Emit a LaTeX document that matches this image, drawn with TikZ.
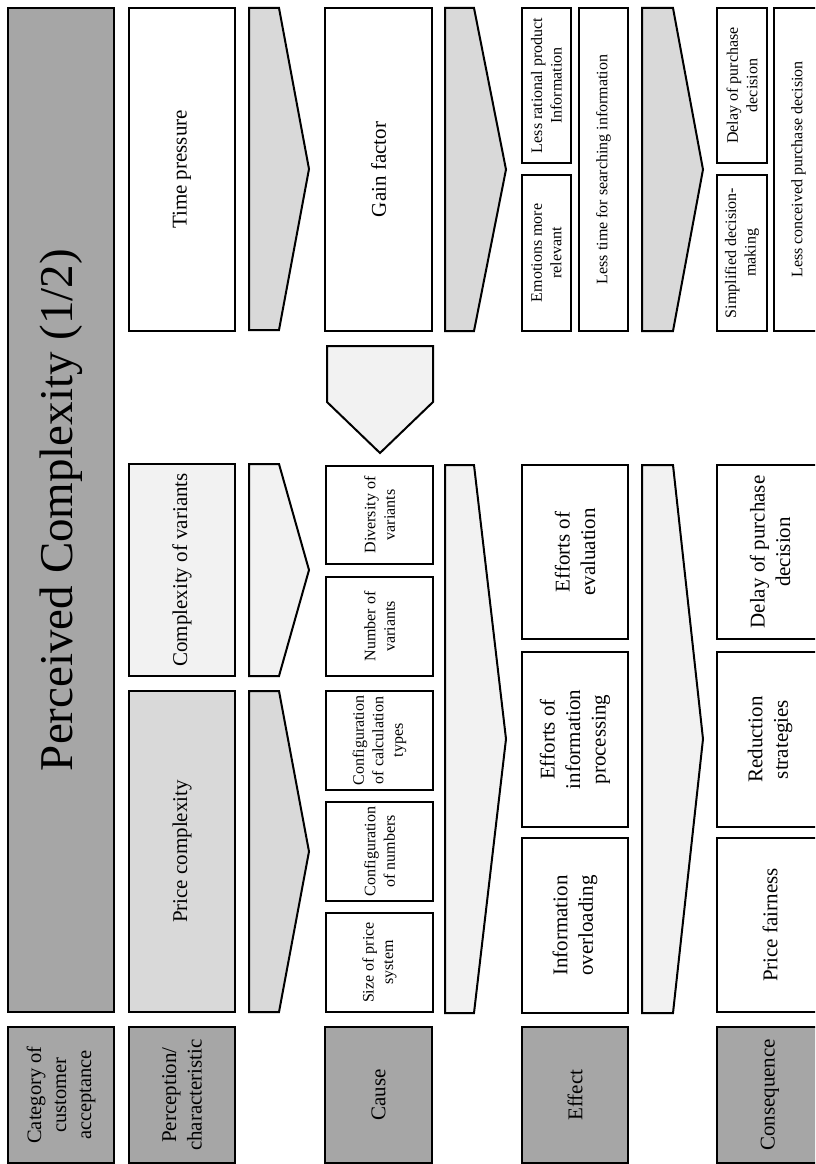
\documentclass[tikz,border=0pt]{standalone}
\usepackage{fontspec}
\setmainfont{Liberation Serif}
\definecolor{darkg}{HTML}{A6A6A6}
\definecolor{midg}{HTML}{D9D9D9}
\definecolor{lightg}{HTML}{F2F2F2}
\tikzset{
  box/.style={draw=black, line width=2pt, rotate=90, align=center, inner sep=0pt},
  bigtxt/.style={font=\fontsize{21}{25.5}\selectfont},
  smalltxt/.style={font=\fontsize{16}{19.5}\selectfont},
  flow/.style={draw=black, line width=2pt, line join=miter},
}
% \rbox{name}{x1}{y1}{x2}{y2}{options}{text}: box given by its corners, text reading upwards
\newcommand{\rbox}[7]{%
  \pgfmathsetmacro{\rbcx}{(#2+#4)/2}%
  \pgfmathsetmacro{\rbcy}{(#3+#5)/2}%
  \pgfmathsetmacro{\rbw}{#4-#2}%
  \pgfmathsetmacro{\rbh}{#5-#3}%
  \node[box, #6, minimum width=\rbh pt, minimum height=\rbw pt] (#1) at (\rbcx,\rbcy) {#7};}
% \chev{x1}{xflat}{xtip}{y1}{y2}{fill}: flow chevron pointing to the right
\newcommand{\chev}[6]{%
  \pgfmathsetmacro{\chm}{(#4+#5)/2}%
  \draw[flow, fill=#6] (#1,#4) -- (#2,#4) -- (#3,\chm) -- (#2,#5) -- (#1,#5) -- cycle;}
\begin{document}
\begin{tikzpicture}[x=1pt, y=-1pt]
\clip (0,0) rectangle (815,1164);
\fill[white] (0,0) rectangle (815,1164);

% column 1: title and header
\rbox{title}{8}{8}{114}{1012}{fill=darkg, font=\fontsize{47}{56}\selectfont}{Perceived Complexity (1/2)}
\rbox{cat}{8}{1027}{114}{1163}{fill=darkg, font=\fontsize{20.5}{25}\selectfont}{Category of\\customer\\acceptance}

% column 2: perception / characteristic
\rbox{time}{129}{8}{235}{331}{fill=white, bigtxt}{Time pressure}
\rbox{varc}{129}{464}{235}{676}{fill=lightg, bigtxt}{Complexity of variants}
\rbox{pricec}{129}{691}{235}{1012}{fill=midg, bigtxt}{Price complexity}
\rbox{perc}{129}{1027}{235}{1163}{fill=darkg, bigtxt}{Perception/\\characteristic}

% column 3: flow chevrons
\chev{249}{279}{309}{8}{330}{midg}
\chev{249}{279}{309}{464}{676}{lightg}
\chev{249}{279}{309}{691}{1012}{midg}

% column 4: cause
\rbox{gain}{325}{8}{432}{331}{fill=white, bigtxt}{Gain factor}
\draw[flow, fill=lightg] (327,346) -- (433,346) -- (433,402) -- (380,453) -- (327,402) -- cycle;
\rbox{div}{326}{466}{433}{564}{fill=white, smalltxt}{Diversity of\\variants}
\rbox{num}{326}{577}{433}{676}{fill=white, smalltxt}{Number of\\variants}
\rbox{cct}{326}{691}{433}{790}{fill=white, smalltxt}{Configuration\\of calculation\\types}
\rbox{cnum}{326}{802}{433}{901}{fill=white, smalltxt}{Configuration\\of numbers}
\rbox{size}{326}{913}{433}{1012}{fill=white, smalltxt}{Size of price\\system}
\rbox{cause}{325}{1027}{432}{1163}{fill=darkg, bigtxt}{Cause}

% column 5: flow chevrons
\chev{445}{474}{506}{8}{331}{midg}
\chev{445}{474}{506}{465}{1013}{lightg}

% column 6: effect
\rbox{lrpi}{522}{8}{571}{163}{fill=white, smalltxt}{Less rational product\\Information}
\rbox{emo}{522}{175}{571}{331}{fill=white, smalltxt}{Emotions more\\relevant}
\rbox{ltsi}{579}{8}{628}{331}{fill=white, smalltxt}{Less time for searching information}
\rbox{eeval}{522}{465}{628}{639}{fill=white, bigtxt}{Efforts of\\evaluation}
\rbox{eip}{522}{652}{628}{827}{fill=white, bigtxt}{Efforts of\\information\\processing}
\rbox{iol}{522}{838}{628}{1013}{fill=white, bigtxt}{Information\\overloading}
\rbox{effect}{522}{1027}{628}{1163}{fill=darkg, bigtxt}{Effect}

% column 7: flow chevrons
\chev{642}{673}{703}{8}{331}{midg}
\chev{642}{673}{703}{465}{1013}{lightg}

% column 8: consequence
\rbox{dpda}{717}{8}{767}{163}{fill=white, smalltxt}{Delay of purchase\\decision}
\rbox{simp}{717}{175}{767}{331}{fill=white, smalltxt}{Simplified decision-\\making}
\rbox{lcpd}{774}{8}{823}{331}{fill=white, smalltxt}{Less conceived purchase decision}
\rbox{dpdb}{717}{465}{823}{639}{fill=white, bigtxt}{Delay of purchase\\decision}
\rbox{red}{717}{652}{823}{827}{fill=white, bigtxt}{Reduction\\strategies}
\rbox{pfair}{717}{838}{823}{1012}{fill=white, bigtxt}{Price fairness}
\rbox{cons}{717}{1027}{823}{1163}{fill=darkg, bigtxt}{Consequence}
\end{tikzpicture}
\end{document}
